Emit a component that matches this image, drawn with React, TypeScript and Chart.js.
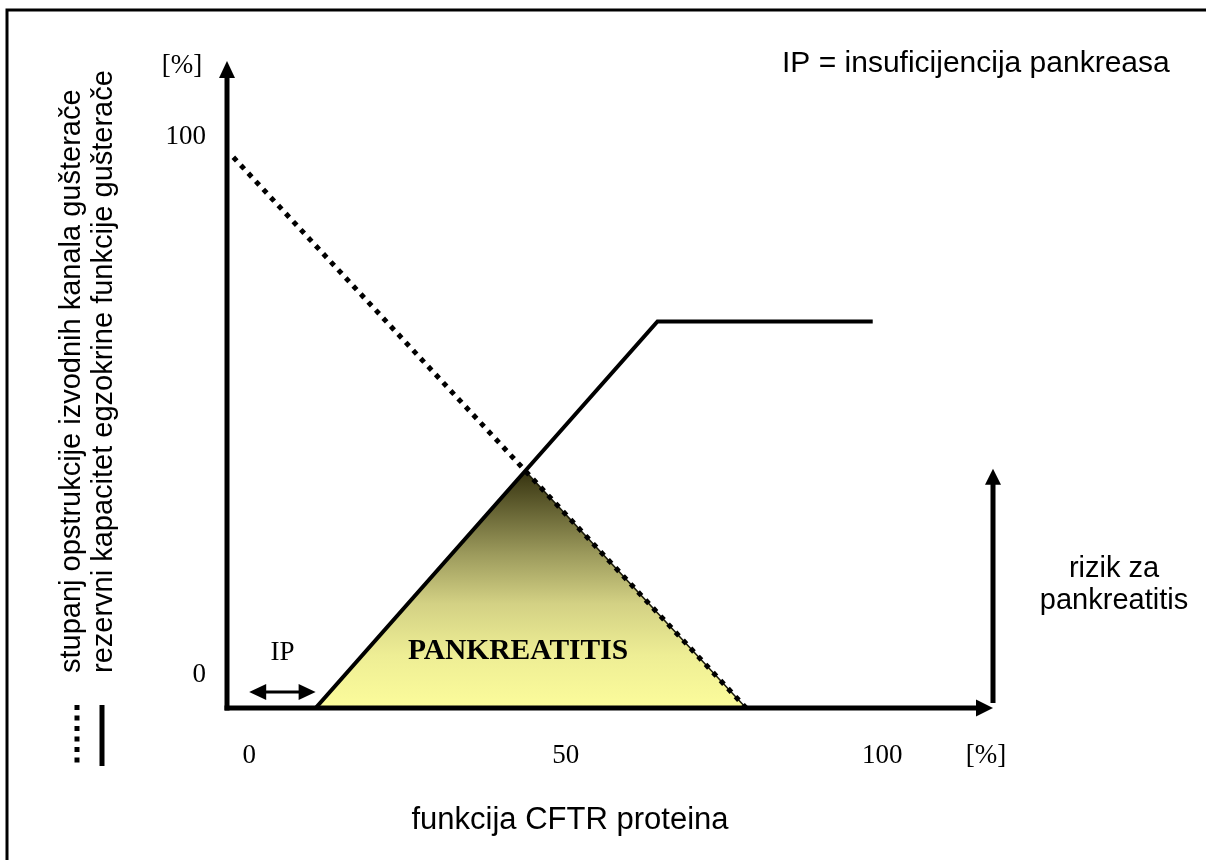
import React, { useEffect, useRef } from "react";
import { Chart, registerables } from "chart.js";

Chart.register(...registerables);

// ---- data (percent units) ----
const X_MIN = -3.5;
const X_MAX = 117.5;
const Y_MIN = 0;
const Y_MAX = 113;

// dotted: reserve capacity of exocrine pancreatic function
const reserveX = [-2.5, 78.5];
const reserveY = [96.2, 0];

// solid: degree of pancreatic duct obstruction
const obstructionX = [10.5, 43.6, 64.5, 98.5];
const obstructionY = [0, 41.4, 67.5, 67.5];

// shaded triangle: pancreatitis risk
const riskX = [10.5, 43.6, 78.5];
const riskY = [0, 41.4, 0];

const xTickValues = [0, 50, 100];
const xTickLabels = ["0", "50", "100"];
const yTickValues = [0, 100];
const yTickLabels = ["0", "100"];

const ipRange = [0, 10.5];
const ipLevel = 2.8;
const riskArrowTop = 41.8;

const SANS = '"Liberation Sans", Arial, sans-serif';
const SERIF = '"Liberation Serif", "Times New Roman", serif';

const toPoints = (xs: number[], ys: number[]) => xs.map((x, i) => ({ x, y: ys[i] }));

function arrowHead(ctx: CanvasRenderingContext2D, tipX: number, tipY: number, dir: string, len: number, half: number) {
  ctx.beginPath();
  if (dir === "up") {
    ctx.moveTo(tipX, tipY);
    ctx.lineTo(tipX - half, tipY + len);
    ctx.lineTo(tipX + half, tipY + len);
  } else if (dir === "right") {
    ctx.moveTo(tipX, tipY);
    ctx.lineTo(tipX - len, tipY - half);
    ctx.lineTo(tipX - len, tipY + half);
  } else {
    ctx.moveTo(tipX, tipY);
    ctx.lineTo(tipX + len, tipY - half);
    ctx.lineTo(tipX + len, tipY + half);
  }
  ctx.closePath();
  ctx.fill();
}

const decorPlugin = {
  id: "decor",
  beforeDraw(chart: any) {
    const ctx: CanvasRenderingContext2D = chart.ctx;
    ctx.save();
    ctx.fillStyle = "#ffffff";
    ctx.fillRect(0, 0, chart.width, chart.height);
    ctx.strokeStyle = "#000";
    ctx.lineWidth = 3;
    ctx.beginPath();
    ctx.moveTo(7, 862);
    ctx.lineTo(7, 10);
    ctx.lineTo(1210, 10);
    ctx.stroke();
    ctx.restore();
  },
  afterDatasetsDraw(chart: any) {
    const ctx: CanvasRenderingContext2D = chart.ctx;
    const a = chart.chartArea;
    const xs = chart.scales.x;
    const ys = chart.scales.y;
    ctx.save();
    ctx.fillStyle = "#000";
    ctx.strokeStyle = "#000";
    ctx.lineCap = "butt";

    // y axis
    ctx.lineWidth = 5;
    ctx.beginPath();
    ctx.moveTo(a.left, a.bottom + 2.5);
    ctx.lineTo(a.left, a.top + 14);
    ctx.stroke();
    arrowHead(ctx, a.left, a.top, "up", 17, 8);

    // x axis
    ctx.beginPath();
    ctx.moveTo(a.left - 2.5, a.bottom);
    ctx.lineTo(a.right - 14, a.bottom);
    ctx.stroke();
    arrowHead(ctx, a.right, a.bottom, "right", 17, 8.5);

    // risk arrow
    const rTop = ys.getPixelForValue(riskArrowTop);
    ctx.lineWidth = 5;
    ctx.beginPath();
    ctx.moveTo(a.right, a.bottom - 5);
    ctx.lineTo(a.right, rTop + 14);
    ctx.stroke();
    arrowHead(ctx, a.right, rTop, "up", 16, 8);

    // IP double arrow
    const ipY = ys.getPixelForValue(ipLevel);
    const ipL = xs.getPixelForValue(ipRange[0]);
    const ipR = xs.getPixelForValue(ipRange[1]);
    ctx.lineWidth = 3;
    ctx.beginPath();
    ctx.moveTo(ipL + 10, ipY);
    ctx.lineTo(ipR - 10, ipY);
    ctx.stroke();
    arrowHead(ctx, ipL, ipY, "left", 17, 8);
    arrowHead(ctx, ipR, ipY, "right", 17, 8);

    // legend marks
    ctx.lineWidth = 5;
    ctx.setLineDash([5, 5.5]);
    ctx.beginPath();
    ctx.moveTo(77, 705);
    ctx.lineTo(77, 765);
    ctx.stroke();
    ctx.setLineDash([]);
    ctx.beginPath();
    ctx.moveTo(102, 705);
    ctx.lineTo(102, 766);
    ctx.stroke();

    // serif tick labels
    ctx.font = "27px " + SERIF;
    ctx.textBaseline = "alphabetic";
    ctx.textAlign = "center";
    xTickValues.forEach((v, i) => {
      ctx.fillText(xTickLabels[i], xs.getPixelForValue(v), 763);
    });
    ctx.fillText("[%]", 986, 763);
    ctx.fillText("[%]", 182, 73);
    ctx.textAlign = "right";
    yTickValues.forEach((v, i) => {
      const py = Math.min(ys.getPixelForValue(v), a.bottom - 35);
      ctx.fillText(yTickLabels[i], 206, py + 9);
    });
    ctx.textAlign = "center";
    ctx.fillText("IP", (ipL + ipR) / 2, 660);

    ctx.font = "bold 29.5px " + SERIF;
    ctx.fillText("PANKREATITIS", 518, 659);

    // sans texts
    ctx.font = "30px " + SANS;
    ctx.textAlign = "left";
    ctx.fillText("IP = insuficijencija pankreasa", 782, 72);
    ctx.font = "29px " + SANS;
    ctx.textAlign = "center";
    ctx.fillText("rizik za", 1114, 577);
    ctx.fillText("pankreatitis", 1114, 609);
    ctx.font = "31px " + SANS;
    ctx.fillText("funkcija CFTR proteina", 570, 829);

    ctx.font = "29px " + SANS;
    ctx.textAlign = "left";
    ctx.save();
    ctx.translate(80, 673);
    ctx.rotate(-Math.PI / 2);
    ctx.fillText("stupanj opstrukcije izvodnih kanala gušterače", 0, 0);
    ctx.restore();
    ctx.save();
    ctx.translate(112, 673);
    ctx.rotate(-Math.PI / 2);
    ctx.fillText("rezervni kapacitet egzokrine funkcije gušterače", 0, 0);
    ctx.restore();

    ctx.restore();
  },
};

export default function App() {
  const canvasRef = useRef<HTMLCanvasElement | null>(null);

  useEffect(() => {
    const canvas = canvasRef.current;
    if (!canvas) return;
    const chart = new Chart(canvas, {
      type: "line",
      data: {
        datasets: [
          {
            label: "stupanj opstrukcije izvodnih kanala gušterače",
            data: toPoints(obstructionX, obstructionY),
            borderColor: "#000",
            borderWidth: 4,
            borderJoinStyle: "miter",
            pointRadius: 0,
            fill: false,
            tension: 0,
            order: 1,
          },
          {
            label: "rezervni kapacitet egzokrine funkcije gušterače",
            data: toPoints(reserveX, reserveY),
            borderColor: "#000",
            borderWidth: 5,
            borderDash: [5, 6],
            borderCapStyle: "butt",
            pointRadius: 0,
            fill: false,
            tension: 0,
            order: 2,
          },
          {
            label: "PANKREATITIS",
            data: toPoints(riskX, riskY),
            borderColor: "#1a1a0a",
            borderWidth: 1.5,
            pointRadius: 0,
            tension: 0,
            fill: "origin",
            backgroundColor: (c: any) => {
              const ch = c.chart;
              const area = ch.chartArea;
              if (!area) return "#ffff99";
              const top = ch.scales.y.getPixelForValue(Math.max(...riskY));
              const g = ch.ctx.createLinearGradient(0, top, 0, area.bottom);
              g.addColorStop(0, "#35320f");
              g.addColorStop(0.35, "#9c9a5c");
              g.addColorStop(0.56, "#d3d184");
              g.addColorStop(0.78, "#eeee95");
              g.addColorStop(1, "#fcfc9b");
              return g;
            },
            order: 3,
          },
        ],
      },
      options: {
        animation: false,
        responsive: false,
        devicePixelRatio: 1,
        parsing: false as any,
        layout: { padding: { left: 227, right: 213, top: 61, bottom: 152 } },
        scales: {
          x: { type: "linear", min: X_MIN, max: X_MAX, display: false },
          y: { type: "linear", min: Y_MIN, max: Y_MAX, display: false },
        },
        plugins: {
          legend: { display: false },
          tooltip: { enabled: false },
        },
        events: [],
      },
      plugins: [decorPlugin],
    });
    return () => chart.destroy();
  }, []);

  return (
    <div style={{ position: "absolute", left: 0, top: 0, width: 1206, height: 860 }}>
      <canvas ref={canvasRef} width={1206} height={860} style={{ display: "block" }} />
    </div>
  );
}
